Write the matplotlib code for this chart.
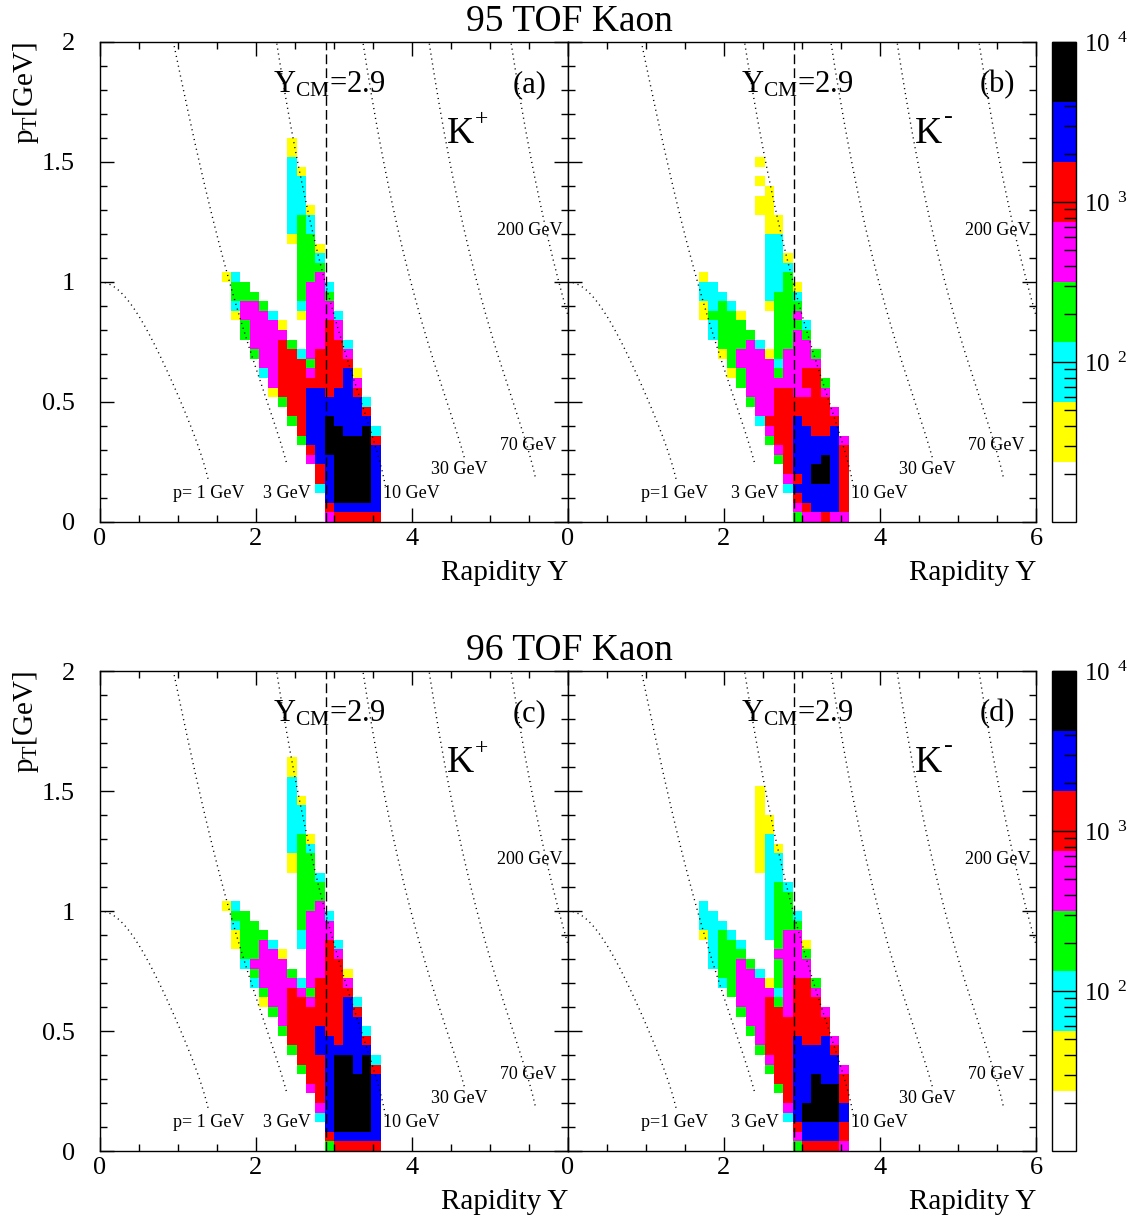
import numpy as np
import matplotlib
matplotlib.use('Agg')
import matplotlib.pyplot as plt
from matplotlib.colors import ListedColormap, LogNorm
from matplotlib.ticker import MultipleLocator, FuncFormatter, FixedFormatter, FixedLocator, LogLocator

plt.rcParams['font.family'] = ['Liberation Serif', 'DejaVu Serif']
plt.rcParams['mathtext.fontset'] = 'custom'
plt.rcParams['mathtext.rm'] = 'Liberation Serif'
plt.rcParams['mathtext.it'] = 'Liberation Serif:italic'
plt.rcParams['mathtext.bf'] = 'Liberation Serif:bold'

# ---------------- data ----------------
TITLES = ['95 TOF Kaon', '96 TOF Kaon']
PANEL_TAGS = ['(a)', '(b)', '(c)', '(d)']
CHARGES = ['+', '-', '+', '-']
Y_CM = 2.9
N_X, N_Y = 50, 50
X_RANGE = (0.0, 6.0)
Y_RANGE = (0.0, 2.0)
FIRST_COL = 13          # first histogram column stored in the row strings
# colour band codes (level 1..7); '.' = empty bin
BAND_CODES = 'ycgmrbk'
BAND_COLORS = ['#ffffff', '#ffff00', '#00ffff', '#00ff00', '#ff00ff',
               '#ff0000', '#0000ff', '#000000']
Z_MIN, Z_MAX = 10.0, 1.0e4
# representative counts of each colour band (y..k)
BAND_COUNTS = [31.6, 75.0, 178.0, 422.0, 1000.0, 2371.0, 5623.0]

# rows from pT bin 40 (top) down to bin 0; columns = rapidity bins 13..29
K_PLUS_95 = [
    ".................", ".......y.........", ".......y.........", ".......c.........",
    ".......cy........", ".......cc........", ".......cc........", ".......cc........",
    ".......ccy.......", ".......cgc.......", ".......cgc.......", ".......ygg.......",
    "........ggy......", "........ggc......", "........ggg......", "yc......ggm......",
    ".gg.....gmmc.....", ".ggg....gmmg.....", ".cmmg...cmmm.....", ".ymmmc..ymmmc....",
    "..gmmmy..mmrm....", "..gmmmm..mmrm....", "...mmmrg.mmrrc...", "...gmmrrcmrrrm...",
    "....mmrrrgrrrr...", "....cmrrrmrrrby..", ".....mrrrrrrrbm..", ".....yrrrbbrbbr..",
    "......grrbbbbbbc.", ".......rrbbbbbbr.", ".......grbbkbbbb.", "........rbbkkbbkc",
    "........gbbkkkkkr", ".........rbkkkkkb", ".........mbbkkkkb", "..........rbkkkkb",
    "..........rbkkkkb", "..........cbkkkkb", "...........bkkkkb", "...........rbbbbb",
    "...........mrrrrr",
]
K_MINUS_95 = [
    ".................", ".................", ".................", ".......y.........",
    ".................", ".......y.........", "........y........", ".......yy........",
    ".......yy........", "........yy.......", "........yy.......", "........cc.......",
    "........cc.......", "........ccy......", "........ccc......", ".y......ccg......",
    ".cc.....ccgy.....", ".ccc....cggc.....", ".ycgc...yggg.....", ".ygggy...ggm.....",
    "..cggg...gggc....", "..cgggg..ggmg....", "...gggmc.ggmm....", "...ygmmmygmmmg...",
    "....gmmmmcmmmm...", "....ygmmmgmmrr...", ".....gmmmmmmrrg..", "......mmmrrmmrm..",
    "......gmmrrrrrr..", ".......mmrrrrrrm.", ".......crrrbrrrr.", "........mrrbbrrb.",
    "........grrbbbbbm", ".........mrbbbbbr", ".........grbbbkbr", "..........rbbkkbr",
    "..........mrbkkbr", "..........cbbbbbr", "...........rbbbbr", "...........mrbbbr",
    "...........gmmrmm",
]
K_PLUS_96 = [
    ".......y.........", ".......y.........", ".......c.........", ".......c.........",
    ".......cy........", ".......cc........", ".......cc........", ".......cc........",
    ".......cgy.......", ".......cgc.......", ".......ygg.......", ".......ygg.......",
    "........ggc......", "........ggg......", "........ggg......", "yc......ggm......",
    ".gg.....gmmc.....", ".cgg....gmmm.....", ".yggg...cmmm.....", ".yggmc..cmmrc....",
    "..ggmmy..mmrm....", "..cmmmm..mmrr....", "...gmmmg.mmrry...", "...cmmmmcmrrrm...",
    "....gmmrmgrrrr...", "....ymmrrmrrrbc..", ".....gmrrrrrrbr..", "......mrrrrrrbb..",
    "......grrrbrrbbc.", ".......rrrbbrbbr.", ".......grrbbbbbb.", "........rrrbkkbkc",
    "........grrbkkbkr", ".........rrbkkkkb", ".........mrbkkkkb", "..........rbkkkkb",
    "..........mbkkkkb", "..........cbkkkkb", "...........bkkkkb", "...........rbbbbb",
    "...........grrrrr",
]
K_MINUS_96 = [
    ".................", ".................", ".................", ".......y.........",
    ".......y.........", ".......y.........", ".......yy........", ".......yy........",
    ".......yc........", ".......ycy.......", ".......ycc.......", ".......ycc.......",
    "........cc.......", "........cgc......", "........cgg......", ".c......cgg......",
    ".cc.....cggc.....", ".ccc....cggg.....", ".ycgc...cgmm.....", "..cggc...gmmy....",
    "..cggg...mmmg....", "..cggmg..gmmm....", "...ggmmc.gmmm....", "...cgmmmygmrrg...",
    "....gmmmmcmrrm...", ".....mmmrgmrrr...", ".....gmmrrmrrrm..", "......mmrrrrrrr..",
    "......gmrrrrrrr..", ".......mrrrbrrbm.", ".......grrrbbbbr.", "........mrrbbbbb.",
    "........grrbbbbbm", ".........rrbbkbbr", ".........grbbkkkr", "..........rbbkkkr",
    "..........mbkkkkb", "..........cbkkkkb", "...........rbbbbr", "...........mbbbbr",
    "...........grrrrm",
]
PANEL_DATA = [K_PLUS_95, K_MINUS_95, K_PLUS_96, K_MINUS_96]

# constant-momentum reference curves
KAON_MASS = 0.4937
P_VALUES = [1, 3, 10, 30, 70, 200]
P_LABELS_LEFT = ['p= 1 GeV', '3 GeV', '10 GeV', '30 GeV', '70 GeV', '200 GeV']
P_LABELS_RIGHT = ['p=1 GeV', '3 GeV', '10 GeV', '30 GeV', '70 GeV', '200 GeV']
PT_LOW = [0.18, 0.25, 0.15, 0.27, 0.19, 0.19]
P_LABEL_POS = [(0.94, 0.10), (2.09, 0.10), (3.63, 0.10), (4.24, 0.20),
               (5.13, 0.30), (5.09, 1.196)]

# ---------------- figure ----------------
W, H = 1141, 1223
fig = plt.figure(figsize=(W / 100, H / 100), dpi=100)


def fpos(l, t, r, b):
    return [l / W, 1 - b / H, (r - l) / W, (b - t) / H]


AX_POS = [fpos(100, 42, 568, 522), fpos(568, 42, 1036, 522),
          fpos(100, 671, 568, 1151), fpos(568, 671, 1036, 1151)]
CB_POS = [fpos(1052, 42, 1076, 522), fpos(1052, 671, 1076, 1151)]

cmap = ListedColormap(BAND_COLORS)
norm = LogNorm(vmin=Z_MIN, vmax=Z_MAX)
xedges = np.linspace(X_RANGE[0], X_RANGE[1], N_X + 1)
yedges = np.linspace(Y_RANGE[0], Y_RANGE[1], N_Y + 1)


def build_grid(rows):
    z = np.full((N_Y, N_X), np.nan)
    top = len(rows) - 1
    for r, s in enumerate(rows):
        j = top - r
        for p, ch in enumerate(s):
            if ch in BAND_CODES:
                z[j, FIRST_COL + p] = BAND_COUNTS[BAND_CODES.index(ch)]
    return np.ma.masked_invalid(z)


meshes = []
for k in range(4):
    ax = fig.add_axes(AX_POS[k])
    left = (k % 2 == 0)
    z = build_grid(PANEL_DATA[k])
    mesh = ax.pcolormesh(xedges, yedges, z, cmap=cmap, norm=norm, zorder=1)
    meshes.append(mesh)

    # reference curves
    for p, lo in zip(P_VALUES, PT_LOW):
        pt = np.linspace(lo, min(p, 2.0), 500)
        arg = np.sqrt((p ** 2 + KAON_MASS ** 2) / (pt ** 2 + KAON_MASS ** 2))
        yy = np.arccosh(np.clip(arg, 1.0, None))
        ax.plot(yy, pt, color='black', lw=1.0, ls=(0, (0.8, 2.8)), zorder=3)
    labels = P_LABELS_LEFT if left else P_LABELS_RIGHT
    for lab, (lx, ly) in zip(labels, P_LABEL_POS):
        ax.text(lx, ly, lab, fontsize=13, ha='left', va='baseline', zorder=4)

    ax.axvline(Y_CM, color='black', lw=1.0, ls=(0, (7, 3)), zorder=3)

    ax.text(2.22, 1.79, 'Y$_{\\rm CM}$=2.9', fontsize=22, ha='left', va='baseline')
    ax.text(5.51, 1.79, PANEL_TAGS[k], fontsize=22, ha='center', va='baseline')
    ax.text(4.45, 1.58, 'K', fontsize=27, ha='left', va='baseline')
    if CHARGES[k] == '+':
        ax.annotate('+', xy=(4.45, 1.58), xytext=(20.0, 12.5), textcoords='offset points',
                    fontsize=17, ha='left', va='baseline')
    else:
        ax.annotate('-', xy=(4.45, 1.58), xytext=(20.5, 14.0), textcoords='offset points',
                    fontsize=19, ha='left', va='baseline')

    ax.set_xlim(*X_RANGE)
    ax.set_ylim(*Y_RANGE)
    ax.xaxis.set_major_locator(MultipleLocator(2))
    ax.xaxis.set_minor_locator(MultipleLocator(0.5))
    ax.yaxis.set_major_locator(MultipleLocator(0.5))
    ax.yaxis.set_minor_locator(MultipleLocator(0.1))
    ax.tick_params(which='both', direction='in', top=True, right=True, width=1.0)
    ax.tick_params(which='major', length=10)
    ax.tick_params(which='minor', length=5)
    ax.tick_params(axis='x', labelsize=19, pad=4)
    ax.tick_params(axis='y', labelsize=19, pad=18)
    for sp in ax.spines.values():
        sp.set_linewidth(1.0)

    if left:
        ax.xaxis.set_major_formatter(FuncFormatter(lambda v, _: '' if v > 5 else '%g' % v))
        ax.yaxis.set_major_formatter(FuncFormatter(lambda v, _: '%g' % v))
        ax.text(-0.158, 1.0, 'p$_{\\rm T}$[GeV]', fontsize=21, rotation=90,
                ha='center', va='top', transform=ax.transAxes)
    else:
        ax.xaxis.set_major_formatter(FuncFormatter(lambda v, _: '%g' % v))
        ax.set_yticklabels([])
    ax.text(1.0, -0.106, 'Rapidity Y', fontsize=21, ha='right', va='center',
            transform=ax.transAxes)

# colour bars
for r in range(2):
    cax = fig.add_axes(CB_POS[r])
    cb = fig.colorbar(meshes[2 * r], cax=cax)
    cb.outline.set_linewidth(1.0)
    cax.yaxis.set_ticks_position('right')
    cax.yaxis.set_major_locator(FixedLocator([1e2, 1e3, 1e4]))
    cax.yaxis.set_major_formatter(FixedFormatter(['10$^{\\ \\ 2}$', '10$^{\\ \\ 3}$', '10$^{\\ \\ 4}$']))
    cax.yaxis.set_minor_locator(LogLocator(base=10, subs=np.arange(2, 10)))
    cax.tick_params(which='major', direction='in', length=17, width=1.0, labelsize=18, pad=6)
    cax.tick_params(which='minor', direction='in', length=8.5, width=1.0)

fig.text(569.5 / W, 1 - 31 / H, TITLES[0], fontsize=27, ha='center', va='baseline')
fig.text(569.5 / W, 1 - 660 / H, TITLES[1], fontsize=27, ha='center', va='baseline')

fig.savefig('out.png', dpi=100)
